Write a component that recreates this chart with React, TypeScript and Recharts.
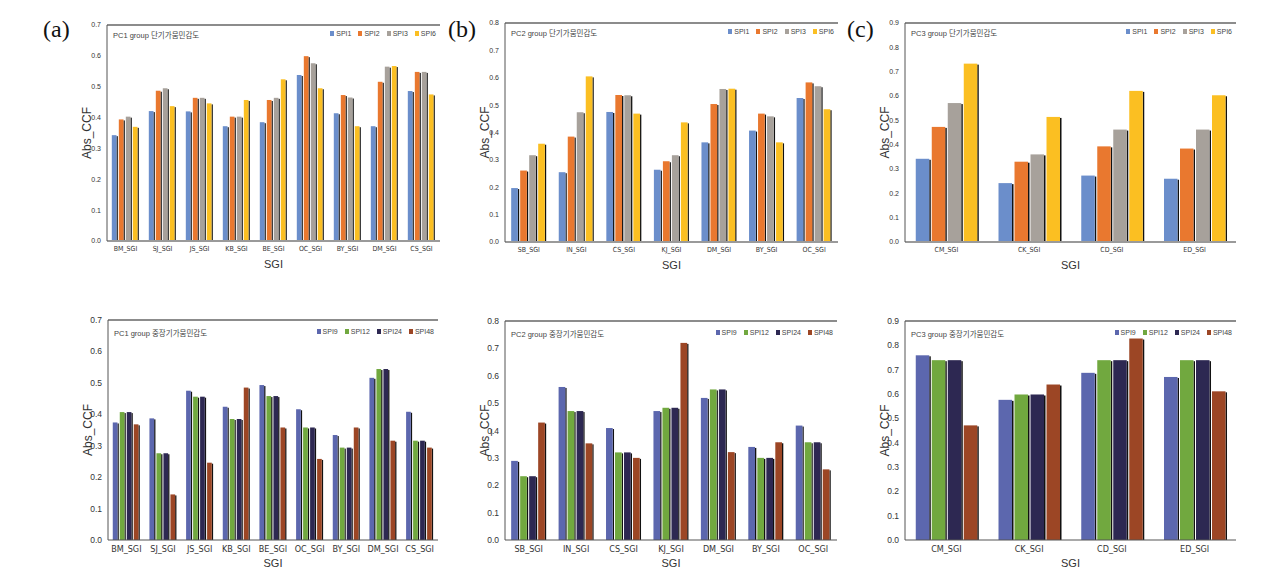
import { Bar, BarChart, Legend, ReferenceLine, XAxis, YAxis } from 'recharts'

const SANS = '"Liberation Sans", Arial, "Noto Sans CJK KR", sans-serif'
const NARROW = '"Liberation Sans Narrow", "DejaVu Sans Condensed", "Liberation Sans", sans-serif'

// short-term indices (단기)
const shortKeys = ['SPI1', 'SPI2', 'SPI3', 'SPI6']
const shortColors = ['#6b8ecb', '#e9782f', '#a7a19b', '#fbbf22']
// mid/long-term indices (중장기)
const longKeys = ['SPI9', 'SPI12', 'SPI24', 'SPI48']
const longColors = ['#5c67ae', '#71a83f', '#2d2852', '#9c4625']

const pc1Sites = ['BM_SGI', 'SJ_SGI', 'JS_SGI', 'KB_SGI', 'BE_SGI', 'OC_SGI', 'BY_SGI', 'DM_SGI', 'CS_SGI']
const pc2Sites = ['SB_SGI', 'IN_SGI', 'CS_SGI', 'KJ_SGI', 'DM_SGI', 'BY_SGI', 'OC_SGI']
const pc3Sites = ['CM_SGI', 'CK_SGI', 'CD_SGI', 'ED_SGI']

const ticks07 = [0, 0.1, 0.2, 0.3, 0.4, 0.5, 0.6, 0.7]
const ticks08 = [0, 0.1, 0.2, 0.3, 0.4, 0.5, 0.6, 0.7, 0.8]
const ticks09 = [0, 0.1, 0.2, 0.3, 0.4, 0.5, 0.6, 0.7, 0.8, 0.9]

// PC1, short term
const pc1Spi1 = [0.343, 0.421, 0.42, 0.372, 0.385, 0.538, 0.414, 0.372, 0.486]
const pc1Spi2 = [0.394, 0.487, 0.464, 0.403, 0.457, 0.599, 0.473, 0.516, 0.548]
const pc1Spi3 = [0.403, 0.495, 0.464, 0.403, 0.464, 0.576, 0.465, 0.565, 0.548]
const pc1Spi6 = [0.37, 0.437, 0.446, 0.457, 0.524, 0.495, 0.372, 0.567, 0.475]

// PC2, short term
const pc2Spi1 = [0.197, 0.255, 0.475, 0.264, 0.364, 0.407, 0.526]
const pc2Spi2 = [0.261, 0.385, 0.537, 0.295, 0.504, 0.469, 0.583]
const pc2Spi3 = [0.317, 0.474, 0.536, 0.317, 0.559, 0.459, 0.569]
const pc2Spi6 = [0.359, 0.605, 0.469, 0.437, 0.56, 0.364, 0.485]

// PC3, short term
const pc3Spi1 = [0.342, 0.242, 0.273, 0.26]
const pc3Spi2 = [0.473, 0.33, 0.393, 0.384]
const pc3Spi3 = [0.571, 0.36, 0.462, 0.462]
const pc3Spi6 = [0.733, 0.514, 0.621, 0.603]

// PC1, mid/long term
const pc1Spi9 = [0.374, 0.387, 0.475, 0.424, 0.493, 0.416, 0.334, 0.516, 0.408]
const pc1Spi12 = [0.407, 0.276, 0.456, 0.385, 0.458, 0.358, 0.294, 0.544, 0.316]
const pc1Spi24 = [0.407, 0.276, 0.456, 0.385, 0.458, 0.358, 0.294, 0.544, 0.316]
const pc1Spi48 = [0.368, 0.145, 0.246, 0.485, 0.358, 0.258, 0.358, 0.316, 0.294]

// PC2, mid/long term
const pc2Spi9 = [0.289, 0.559, 0.409, 0.471, 0.519, 0.34, 0.418]
const pc2Spi12 = [0.233, 0.471, 0.32, 0.483, 0.55, 0.3, 0.357]
const pc2Spi24 = [0.233, 0.471, 0.32, 0.483, 0.55, 0.3, 0.357]
const pc2Spi48 = [0.429, 0.353, 0.3, 0.72, 0.321, 0.357, 0.258]

// PC3, mid/long term
const pc3Spi9 = [0.759, 0.576, 0.687, 0.67]
const pc3Spi12 = [0.739, 0.598, 0.739, 0.739]
const pc3Spi24 = [0.739, 0.598, 0.739, 0.739]
const pc3Spi48 = [0.471, 0.639, 0.828, 0.611]

function ShadowBar(props: any) {
  const { x, y, width, height, fill } = props
  if (!height || height <= 0) return null
  const sw = Math.max(1.3, width * 0.1)
  return (
    <g>
      <rect x={x + width - sw} y={y + 1} width={sw} height={height - 1} fill="#111" />
      <rect x={x} y={y} width={width - sw} height={height} fill={fill} />
    </g>
  )
}

type PanelProps = {
  x: number
  y: number
  w: number
  h: number
  sites: string[]
  series: number[][]
  keys: string[]
  colors: string[]
  ticks: number[]
  title: string
  long?: boolean
}

function Panel({ x, y, w, h, sites, series, keys, colors, ticks, title, long }: PanelProps) {
  const data = sites.map((site, i) => {
    const row: Record<string, string | number> = { site }
    keys.forEach((k, j) => {
      row[k] = series[j][i]
    })
    return row
  })
  const max = ticks[ticks.length - 1]

  const renderLegend = (p: any) => {
    const items = [...(p.payload || [])].sort(
      (a: any, b: any) => keys.indexOf(a.dataKey) - keys.indexOf(b.dataKey),
    )
    return (
      <div style={{ display: 'flex', fontFamily: SANS, fontSize: 7, color: '#444', whiteSpace: 'nowrap' }}>
        {items.map((e: any) => (
          <span key={e.value} style={{ display: 'flex', alignItems: 'center', marginLeft: 7 }}>
            <span style={{ width: 4, height: 5, background: e.color, marginRight: 2, display: 'inline-block' }} />
            {e.value}
          </span>
        ))}
      </div>
    )
  }

  return (
    <div style={{ position: 'absolute', left: x - 40, top: y - 10 }}>
      <BarChart
        width={w + 45}
        height={h + 40}
        data={data}
        margin={{ top: 10, right: 5, bottom: 3, left: 10 }}
        barCategoryGap="13%"
        barGap={1}
      >
        <XAxis
          dataKey="site"
          interval={0}
          tickLine={false}
          tickSize={long ? 4 : 3}
          height={27}
          axisLine={{ stroke: long ? '#555' : '#9a9a9a', strokeWidth: long ? 1 : 2 }}
          tick={{ fontSize: long ? 9 : 7, fill: '#333', fontFamily: NARROW }}
          label={{ value: 'SGI', position: 'insideBottom', offset: 0, fontSize: 11, fill: '#333', fontFamily: SANS }}
        />
        <YAxis
          width={30}
          domain={[0, max]}
          ticks={ticks}
          tickFormatter={(v: number) => v.toFixed(1)}
          tickLine={false}
          tickSize={4}
          axisLine={{ stroke: '#555' }}
          tick={{ fontSize: long ? 8.5 : 7, fill: '#333', fontFamily: SANS }}
          label={{
            value: 'Abs_CCF',
            angle: -90,
            position: 'insideLeft',
            offset: 10,
            fontSize: 12,
            fill: '#333',
            fontFamily: SANS,
            style: { textAnchor: 'middle' },
          }}
        />
        <ReferenceLine y={max} stroke="#8c8c8c" strokeWidth={2} />
        <Legend
          verticalAlign="middle"
          align="center"
          content={renderLegend}
          wrapperStyle={{ top: long ? 18 : 15, right: 9, left: 'auto', width: 'auto' }}
        />
        {keys.map((k, j) => (
          <Bar key={k} dataKey={k} fill={colors[j]} shape={ShadowBar} isAnimationActive={false} />
        ))}
      </BarChart>
      <div
        style={{
          position: 'absolute',
          left: 46,
          top: long ? 17 : 14,
          fontFamily: SANS,
          fontSize: 7.5,
          color: '#444',
          whiteSpace: 'nowrap',
        }}
      >
        {title}
      </div>
    </div>
  )
}

function PanelTag({ x, text }: { x: number; text: string }) {
  return (
    <div
      style={{
        position: 'absolute',
        left: x,
        top: 17,
        fontFamily: '"Liberation Serif", "DejaVu Serif", serif',
        fontSize: 24,
        lineHeight: 1,
        color: '#111',
      }}
    >
      {text}
    </div>
  )
}

export default function App() {
  return (
    <div style={{ position: 'absolute', left: 0, top: 0, width: 1269, height: 587, background: '#fff', overflow: 'hidden' }}>
      <PanelTag x={43} text="(a)" />
      <PanelTag x={448} text="(b)" />
      <PanelTag x={847} text="(c)" />

      <Panel x={107} y={25} w={333} h={216} sites={pc1Sites} series={[pc1Spi1, pc1Spi2, pc1Spi3, pc1Spi6]}
        keys={shortKeys} colors={shortColors} ticks={ticks07} title="PC1 group 단기가뭄민감도" />
      <Panel x={505} y={23} w={333} h={219} sites={pc2Sites} series={[pc2Spi1, pc2Spi2, pc2Spi3, pc2Spi6]}
        keys={shortKeys} colors={shortColors} ticks={ticks08} title="PC2 group 단기가뭄민감도" />
      <Panel x={905} y={23} w={331} h={219} sites={pc3Sites} series={[pc3Spi1, pc3Spi2, pc3Spi3, pc3Spi6]}
        keys={shortKeys} colors={shortColors} ticks={ticks09} title="PC3 group 단기가뭄민감도" />

      <Panel x={108} y={320} w={330} h={220} sites={pc1Sites} series={[pc1Spi9, pc1Spi12, pc1Spi24, pc1Spi48]}
        keys={longKeys} colors={longColors} ticks={ticks07} title="PC1 group 중장기가뭄민감도" long />
      <Panel x={505} y={321} w={332} h={219} sites={pc2Sites} series={[pc2Spi9, pc2Spi12, pc2Spi24, pc2Spi48]}
        keys={longKeys} colors={longColors} ticks={ticks08} title="PC2 group 중장기가뭄민감도" long />
      <Panel x={905} y={321} w={331} h={219} sites={pc3Sites} series={[pc3Spi9, pc3Spi12, pc3Spi24, pc3Spi48]}
        keys={longKeys} colors={longColors} ticks={ticks09} title="PC3 group 중장기가뭄민감도" long />
    </div>
  )
}
